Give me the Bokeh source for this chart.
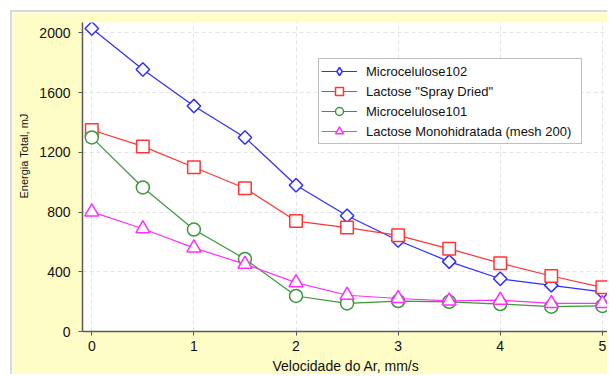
import math
from bokeh.plotting import figure
from bokeh.models import (Legend, LegendItem, FixedTicker, Range1d, Title)
from bokeh.embed import file_html
from bokeh.resources import INLINE

velocidade = [0, 0.5, 1, 1.5, 2, 2.5, 3, 3.5, 4, 4.5, 5]
micro102 = [2030, 1755, 1510, 1300, 980, 775, 610, 468, 353, 309, 265]
lact_spray = [1350, 1240, 1100, 960, 740, 696, 644, 554, 458, 372, 296]
micro101 = [1300, 965, 683, 486, 238, 188, 204, 199, 184, 166, 171]
lact_mono = [801, 688, 560, 451, 327, 243, 221, 205, 210, 188, 188]

series_names = ["Microcelulose102", 'Lactose "Spray Dried"', "Microcelulose101",
                "Lactose Monohidratada (mesh 200)"]
x_ticks = [0, 1, 2, 3, 4, 5]
y_ticks = [0, 400, 800, 1200, 1600, 2000]

FONT = "Liberation Sans"
YELLOW = "#FFFDC6"

p = figure(width=597, height=364, output_backend="svg", toolbar_location=None,
           x_range=Range1d(-0.091, 5.07), y_range=Range1d(0, 2070),
           min_border_left=70, min_border_right=0, min_border_top=10,
           min_border_bottom=39, margin=(10, 0, 0, 10),
           styles={"border-left": "2px solid #D9D9D9", "border-top": "2px solid #D9D9D9"})
p.border_fill_color = YELLOW
p.background_fill_color = "white"
p.outline_line_color = None

for ax in (p.xaxis[0], p.yaxis[0]):
    ax.axis_line_color = "#5A5A5A"
    ax.axis_line_width = 1.5
    ax.major_tick_line_color = "#5A5A5A"
    ax.major_tick_out = 4
    ax.major_tick_in = 0
    ax.minor_tick_line_color = None
    ax.major_label_text_font = FONT
    ax.major_label_text_font_size = "14px"
    ax.major_label_text_color = "#111111"

p.xaxis.ticker = FixedTicker(ticks=x_ticks)
p.yaxis.ticker = FixedTicker(ticks=y_ticks)
p.xaxis.major_label_standoff = 5
p.yaxis.major_label_standoff = 8
p.xaxis.axis_label = "Velocidade do Ar, mm/s"
p.xaxis.axis_label_text_font = FONT
p.xaxis.axis_label_text_font_size = "14px"
p.xaxis.axis_label_text_font_style = "normal"
p.xaxis.axis_label_text_color = "#111111"
p.xaxis.axis_label_standoff = 4

for g in (p.xgrid[0], p.ygrid[0]):
    g.grid_line_color = "#E3E3E3"
    g.grid_line_dash = "4 3"
    g.grid_line_width = 1
p.xgrid.ticker = FixedTicker(ticks=x_ticks)
p.ygrid.ticker = FixedTicker(ticks=y_ticks)

ytitle = Title(text="Energia Total, mJ", align="right", offset=91,
               vertical_align="top",
               text_font=FONT, text_font_size="11px", text_font_style="normal",
               text_color="#111111", standoff=10)
p.add_layout(ytitle, "left")

colors = ["#2E2EFF", "#FF3535", "#3A983A", "#FF2EFF"]
data = [micro102, lact_spray, micro101, lact_mono]
markers = ["square", "square", "circle", "triangle"]
sizes = [9.5, 12.5, 13, 14]
angles = [math.pi / 4, 0, 0, 0]

items = []
for i, (name, ys, c, m, s, a) in enumerate(zip(series_names, data, colors, markers, sizes, angles)):
    lr = p.line(velocidade, ys, line_color=c, line_width=1.2)
    rends = [lr]
    if i == 0:
        # legend stand-in (the legend ignores marker angle); hidden under the markers
        proxy = p.scatter(velocidade, ys, marker="diamond", size=3, line_color=c,
                          line_width=1.5, fill_color="white")
        rends.append(proxy)
    sr = p.scatter(velocidade, ys, marker=m, size=s, angle=a, line_color=c,
                   line_width=1.5, fill_color="white")
    if i != 0:
        rends.append(sr)
    items.append(LegendItem(label=name, renderers=rends))

legend = Legend(items=items, location=(236, 187), margin=0, padding=2, spacing=0,
                glyph_width=36, glyph_height=20, label_height=20, label_width=213,
                label_standoff=9, label_text_font=FONT, label_text_font_size="13px",
                label_text_color="#111111", border_line_color="#808080",
                border_line_width=1, background_fill_color="white",
                background_fill_alpha=1)
p.add_layout(legend)

open("out.html", "w").write(file_html(p, INLINE))
